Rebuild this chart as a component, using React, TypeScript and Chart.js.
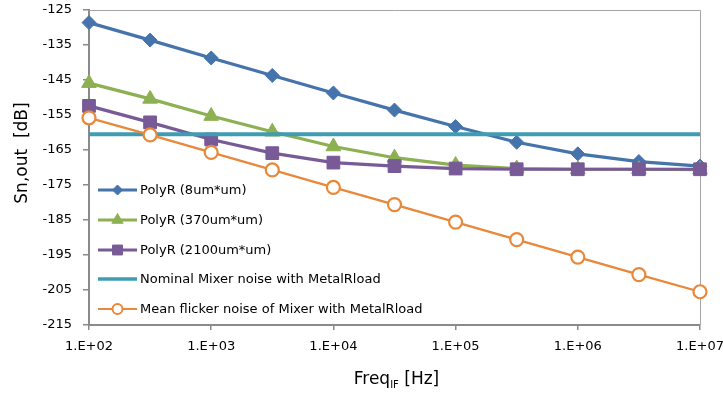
import React, { useEffect, useRef } from 'react';
import { Chart, registerables } from 'chart.js';

Chart.register(...registerables);

// IF frequencies (Hz), half-decade steps
const freqs = [1e2, 3.162e2, 1e3, 3.162e3, 1e4, 3.162e4, 1e5, 3.162e5, 1e6, 3.162e6, 1e7];

// Output noise Sn,out (dB) per load resistor variant
const polyR8 = [-128.6, -133.6, -138.7, -143.7, -148.7, -153.6, -158.3, -162.8, -166.1, -168.3, -169.6];
const polyR370 = [-145.9, -150.4, -155.3, -159.8, -164.0, -167.2, -169.3, -170.3, -170.5, -170.5, -170.6];
const polyR2100 = [-152.4, -157.1, -162.0, -165.9, -168.6, -169.6, -170.3, -170.5, -170.5, -170.5, -170.5];
const meanFlicker = [-155.8, -160.7, -165.7, -170.7, -175.7, -180.6, -185.6, -190.6, -195.6, -200.6, -205.5];
const nominalLevel = -160.5;

const seriesNames = [
  'PolyR (8um*um)',
  'PolyR (370um*um)',
  'PolyR (2100um*um)',
  'Nominal Mixer noise with MetalRload',
  'Mean flicker noise of Mixer with MetalRload',
];

const xTickValues = [1e2, 1e3, 1e4, 1e5, 1e6, 1e7];
const xTickLabels = ['1.E+02', '1.E+03', '1.E+04', '1.E+05', '1.E+06', '1.E+07'];

const FONT = '"DejaVu Sans", sans-serif';
const AXIS_GREY = '#8a8a8a';

const COLORS = {
  blue: '#4573AB',
  green: '#8CB052',
  purple: '#775A96',
  cyan: '#3E9DB3',
  orange: '#E8883A',
};

type Marker = 'rectRot' | 'triangle' | 'rect' | 'circle' | 'none';

function drawMarker(
  ctx: CanvasRenderingContext2D,
  style: Marker,
  x: number,
  y: number,
  r: number,
  fill: string,
  stroke: string,
  bw: number
) {
  if (style === 'none') return;
  ctx.beginPath();
  if (style === 'rectRot') {
    ctx.moveTo(x - r, y);
    ctx.lineTo(x, y - r);
    ctx.lineTo(x + r, y);
    ctx.lineTo(x, y + r);
    ctx.closePath();
  } else if (style === 'triangle') {
    ctx.moveTo(x, y - r);
    ctx.lineTo(x + r * 0.866, y + r * 0.5);
    ctx.lineTo(x - r * 0.866, y + r * 0.5);
    ctx.closePath();
  } else if (style === 'rect') {
    const s = r * Math.SQRT1_2;
    ctx.rect(x - s, y - s, 2 * s, 2 * s);
  } else {
    ctx.arc(x, y, r, 0, Math.PI * 2);
  }
  ctx.fillStyle = fill;
  ctx.fill();
  ctx.lineWidth = bw;
  ctx.strokeStyle = stroke;
  ctx.stroke();
}

// Light frame on the top and right edges of the plot area
const framePlugin = {
  id: 'plotFrame',
  beforeDatasetsDraw(chart: any) {
    const { ctx, chartArea } = chart;
    ctx.save();
    ctx.strokeStyle = '#a6a6a6';
    ctx.lineWidth = 1;
    ctx.beginPath();
    ctx.moveTo(chartArea.left, chartArea.top + 0.5);
    ctx.lineTo(chartArea.right + 0.5, chartArea.top + 0.5);
    ctx.lineTo(chartArea.right + 0.5, chartArea.bottom);
    ctx.stroke();
    ctx.restore();
  },
};

// Legend drawn inside the plot, lower-left
const legendEntries: { color: string; marker: Marker; r: number; fill: string; lw: number }[] = [
  { color: COLORS.blue, marker: 'rectRot', r: 5, fill: COLORS.blue, lw: 3 },
  { color: COLORS.green, marker: 'triangle', r: 6.5, fill: COLORS.green, lw: 3 },
  { color: COLORS.purple, marker: 'rect', r: 7, fill: COLORS.purple, lw: 3 },
  { color: COLORS.cyan, marker: 'none', r: 0, fill: COLORS.cyan, lw: 3.5 },
  { color: COLORS.orange, marker: 'circle', r: 5, fill: '#ffffff', lw: 2.2 },
];
const legendRows = [190, 220, 250, 279, 309];

const legendPlugin = {
  id: 'innerLegend',
  afterDraw(chart: any) {
    const { ctx } = chart;
    ctx.save();
    legendEntries.forEach((e, i) => {
      const y = legendRows[i];
      ctx.strokeStyle = e.color;
      ctx.lineWidth = e.lw;
      ctx.beginPath();
      ctx.moveTo(98, y);
      ctx.lineTo(137, y);
      ctx.stroke();
      drawMarker(ctx, e.marker, 117.5, y, e.r, e.fill, e.color, e.marker === 'circle' ? 2 : 1);
      ctx.fillStyle = '#000';
      ctx.font = `13px ${FONT}`;
      ctx.textBaseline = 'middle';
      ctx.textAlign = 'left';
      ctx.fillText(seriesNames[i], 140, y + 1);
    });
    ctx.restore();
  },
};

// Axis titles (x title carries a subscript)
const titlesPlugin = {
  id: 'axisTitles',
  afterDraw(chart: any) {
    const { ctx } = chart;
    ctx.save();
    ctx.fillStyle = '#000';
    ctx.textBaseline = 'alphabetic';
    ctx.textAlign = 'left';

    ctx.font = `17px ${FONT}`;
    const main = 'Freq';
    const sub = 'IF';
    const tail = ' [Hz]';
    const wMain = ctx.measureText(main).width;
    const wTail = ctx.measureText(tail).width;
    ctx.font = `10px ${FONT}`;
    const wSub = ctx.measureText(sub).width;
    const total = wMain + wSub + wTail;
    let x = 396.5 - total / 2;
    const base = 384;
    ctx.font = `17px ${FONT}`;
    ctx.fillText(main, x, base);
    x += wMain;
    ctx.font = `10px ${FONT}`;
    ctx.fillText(sub, x, base + 4);
    x += wSub;
    ctx.font = `17px ${FONT}`;
    ctx.fillText(tail, x, base);

    ctx.translate(27, 153);
    ctx.rotate(-Math.PI / 2);
    ctx.textAlign = 'center';
    ctx.font = `17px ${FONT}`;
    ctx.fillText('Sn,out  [dB]', 0, 0);
    ctx.restore();
  },
};

const toPoints = (ys: number[]) => ys.map((y, i) => ({ x: freqs[i], y }));

export default function App() {
  const ref = useRef<HTMLCanvasElement>(null);

  useEffect(() => {
    document.body.style.margin = '0';
    const canvas = ref.current;
    if (!canvas) return;

    const chart = new Chart(canvas, {
      type: 'line',
      data: {
        datasets: [
          {
            label: seriesNames[0],
            data: toPoints(polyR8),
            borderColor: COLORS.blue,
            backgroundColor: COLORS.blue,
            borderWidth: 3.2,
            pointStyle: 'rectRot',
            pointRadius: 7,
            pointBorderWidth: 1,
            order: 5,
            clip: false,
          },
          {
            label: seriesNames[1],
            data: toPoints(polyR370),
            borderColor: COLORS.green,
            backgroundColor: COLORS.green,
            borderWidth: 3.2,
            pointStyle: 'triangle',
            pointRadius: 8.5,
            pointBorderWidth: 1,
            order: 4,
            clip: false,
          },
          {
            label: seriesNames[2],
            data: toPoints(polyR2100),
            borderColor: COLORS.purple,
            backgroundColor: COLORS.purple,
            borderWidth: 3.2,
            pointStyle: 'rect',
            pointRadius: 9,
            pointBorderWidth: 1,
            order: 3,
            clip: false,
          },
          {
            label: seriesNames[3],
            data: [
              { x: freqs[0], y: nominalLevel },
              { x: freqs[freqs.length - 1], y: nominalLevel },
            ],
            borderColor: COLORS.cyan,
            backgroundColor: COLORS.cyan,
            borderWidth: 3.8,
            pointRadius: 0,
            order: 2,
            clip: false,
          },
          {
            label: seriesNames[4],
            data: toPoints(meanFlicker),
            borderColor: COLORS.orange,
            backgroundColor: '#ffffff',
            borderWidth: 2.3,
            pointStyle: 'circle',
            pointRadius: 6.5,
            pointBorderWidth: 2.2,
            order: 1,
            clip: false,
          },
        ],
      },
      options: {
        responsive: false,
        animation: false,
        devicePixelRatio: 1,
        events: [],
        layout: { padding: { top: 10, right: 23, left: 0, bottom: 0 } },
        plugins: {
          legend: { display: false },
          tooltip: { enabled: false },
        },
        scales: {
          x: {
            type: 'logarithmic',
            min: 1e2,
            max: 1e7,
            afterBuildTicks: (scale: any) => {
              scale.ticks = xTickValues.map((v) => ({ value: v }));
            },
            afterFit: (scale: any) => {
              scale.height = 69;
              scale.paddingLeft = 0;
              scale.paddingRight = 0;
            },
            ticks: {
              autoSkip: false,
              maxRotation: 0,
              padding: 9,
              color: '#000',
              font: { family: FONT, size: 13 },
              callback: (value: any) => {
                const i = xTickValues.indexOf(Number(value));
                return i >= 0 ? xTickLabels[i] : '';
              },
            },
            grid: {
              drawOnChartArea: false,
              drawTicks: true,
              tickLength: 5,
              color: AXIS_GREY,
              lineWidth: 1.5,
            },
            border: { color: AXIS_GREY, width: 2 },
          },
          y: {
            type: 'linear',
            min: -215,
            max: -125,
            afterFit: (scale: any) => {
              scale.width = 89;
              scale.paddingTop = 0;
              scale.paddingBottom = 0;
            },
            ticks: {
              stepSize: 10,
              padding: 11,
              color: '#000',
              font: { family: FONT, size: 13 },
            },
            grid: {
              drawOnChartArea: false,
              drawTicks: true,
              tickLength: 6,
              color: AXIS_GREY,
              lineWidth: 1.5,
            },
            border: { color: AXIS_GREY, width: 2 },
          },
        },
      },
      plugins: [framePlugin, legendPlugin, titlesPlugin],
    });

    return () => chart.destroy();
  }, []);

  return (
    <div style={{ width: 723, height: 394 }}>
      <canvas ref={ref} width={723} height={394} />
    </div>
  );
}
